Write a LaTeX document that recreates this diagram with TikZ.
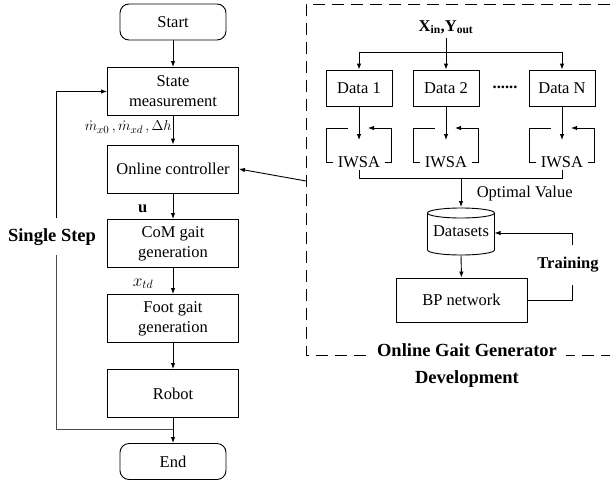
\documentclass[tikz,border=0pt]{standalone}
\usepackage{fontspec}
\setmainfont{Liberation Serif}
\usetikzlibrary{arrows.meta}
\usetikzlibrary{calc}

\begin{document}
\begin{tikzpicture}[x=1pt, y=-1pt, line width=0.9pt,
        font=\fontsize{16.5}{20}\selectfont,
        >={Latex[length=6pt,width=4.5pt]},
        box/.style={draw, minimum width=131pt, minimum height=48pt, align=center, inner sep=0pt},
        term/.style={draw, rounded corners=9pt, minimum width=106pt, minimum height=36pt, inner sep=0pt},
        databox/.style={draw, minimum width=66pt, minimum height=36pt, inner sep=0pt},
        bigbold/.style={font=\fontsize{18.5}{27}\selectfont\bfseries},
        gendash/.style={dash pattern=on 12pt off 7pt}]
        \useasboundingbox (0,0) rectangle (610,485);
        \begin{scope}

            % main loop
            \node[term] (start) at (173,22) {Start};
            \node[box] (state) at (173,91.5) {State\\measurement};
            \node[box] (online) at (173,169) {Online controller};
            \node[box] (com) at (173,243.5) {CoM gait\\generation};
            \node[box] (foot) at (173,318.5) {Foot gait\\generation};
            \node[box] (robot) at (173,393.5) {Robot};
            \node[term] (end) at (173,461.5) {End};

            \draw[->] (start) -- (state);
            \draw[->] (state) -- (online) node[pos=0.4, left, inner sep=1pt, font=\fontsize{15}{17}\selectfont] (meas) {$\dot{m}_{x0}\,,\dot{m}_{xd}\,,\Delta h$};
            \draw[->] (online) -- (com) node[pos=0.6, left, xshift=-22pt] (ctrl) {$\mathbf{u}$};
            \draw[->] (com) -- (foot) node[pos=0.6, left, xshift=-16pt] (xtd) {$x_{td}$};
            \draw[->] (foot) -- (robot);
            \draw[->] (robot) -- (end);

            % single step feedback
            \coordinate (fb) at (173,429);
            \node[bigbold] (single) at (52,237) {Single Step};
            \draw[black!70] (fb) -- (56,429) -- (56,255);
            \draw[->] (56,218) -- (56,91.5) -- (state.west);

        \end{scope}

        \begin{scope}

            % generator development
            \draw[gendash] (610,4) -- (306,4) -- (306,355) -- (610,355);
            \node[bigbold, fill=white, align=center, inner xsep=9pt] (title) at (467,366) {Online Gait Generator\\Development};
            \coordinate (gg) at (306,181);
            \draw[->] (gg) -- (online.east);

            \node (xy) at (446,27) {\textbf{X\textsubscript{in},Y\textsubscript{out}}};
            \coordinate (split) at (446,52);
            \node[databox] (data1) at (359,88) {Data 1};
            \node[databox] (data2) at (446,88) {Data 2};
            \node[databox] (dataN) at (562,88) {Data N};
            \node (dots) at (505,87) {\textbf{......}};

            \draw (xy) -- (split);
            \draw[->] (split) -| (data1);
            \draw[->] (split) -- (data2);
            \draw[->] (split) -| (dataN);

            \foreach \n/\x in {1/359, 2/446, N/562}{
                \node[inner sep=4pt] (iwsa\n) at (\x,162) {IWSA};
                \draw[->] (data\n) -- (\x,140);
                \draw (iwsa\n.west) -- (\x-33,162) -- (\x-33,128) -- (\x-11,128);
                \draw[->] (iwsa\n.east) -- (\x+32,162) -- (\x+32,128) -- (\x+9,128);
            }

            \coordinate (join) at (461,178);
            \draw (359,170) -- (359,178) -- (562,178) -- (562,170);

            % datasets cylinder
            \node[minimum width=67pt, minimum height=47pt, inner sep=0pt] (datasets) at (461,231.5) {Datasets};
            \draw (461,213) ellipse [x radius=33.5pt, y radius=5pt];
            \draw (427.5,213) -- (427.5,250) arc[start angle=180, end angle=360, x radius=33.5pt, y radius=5pt] -- (494.5,213);
            \draw[->] (join) -- (461,207) node[pos=0.55, right, xshift=12pt] (opt) {Optimal Value};

            \node[draw, minimum width=131pt, minimum height=44pt] (bp) at (461.5,300) {BP network};
            \draw[->] (datasets.south) -- (bp.north);

            \node[font=\fontsize{16.5}{20}\selectfont\bfseries] (training) at (568,265) {Training};
            \draw (bp.east) -- (572,300) -- (572,285);
            \draw[->] (572,245) -- (572,233) -- (494.5,233);

        \end{scope}
    \end{tikzpicture}
\end{document}
